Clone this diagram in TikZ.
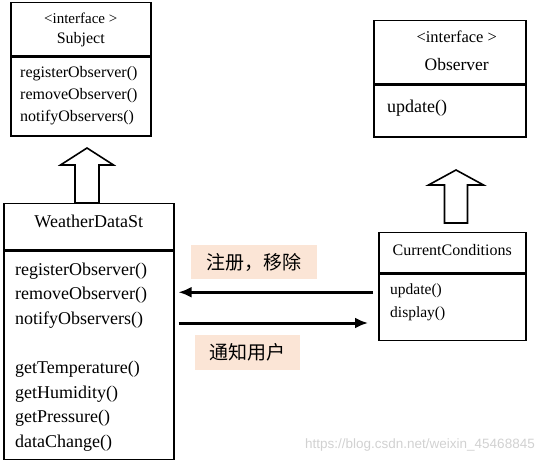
\documentclass[tikz,border=0pt]{standalone}
\usepackage{fontspec}
\setmainfont{Liberation Serif}
\newfontfamily\cjk{Noto Sans CJK SC}
\newfontfamily\wmfont{Liberation Sans}
\usetikzlibrary{arrows.meta}
\definecolor{notefill}{HTML}{FBE5D6}

\tikzset{
  box/.style={draw, line width=1.5pt, inner sep=0pt},
  ops/.style={anchor=north west, align=left, inner sep=0pt},
  title/.style={anchor=base, inner sep=0pt},
  note/.style={fill=notefill, inner sep=0pt, font=\cjk\fontsize{19}{19}\selectfont},
  link/.style={line width=3pt, -{Latex[length=13pt,width=11pt]}},
  hollow/.style={line width=1.6pt, line join=miter},
}

\begin{document}
\begin{tikzpicture}[x=1pt,y=-1pt]
\useasboundingbox (0,0) rectangle (543,462);

% Subject
\node[box, minimum width=140pt, minimum height=53pt, anchor=north west] (subjhead) at (10,2) {};
\node[box, minimum width=140pt, minimum height=79pt, anchor=north] (subjbody) at (subjhead.south) {};
\node[title, font=\fontsize{15}{15}\selectfont] (subjstereo) at ([yshift=5.5pt]subjhead.center) {<interface >};
\node[title, font=\fontsize{16}{16}\selectfont] (subjname) at ([yshift=-14.5pt]subjhead.center) {Subject};
\node[ops, font=\fontsize{16}{22}\selectfont] (subjops) at ([xshift=10pt,yshift=-10pt]subjbody.north west)
  {registerObserver()\\removeObserver()\\notifyObservers()};

% Observer
\node[box, minimum width=152pt, minimum height=63pt, anchor=north west] (obshead) at (373,20) {};
\node[box, minimum width=152pt, minimum height=52pt, anchor=north] (obsbody) at (obshead.south) {};
\node[title, font=\fontsize{16.5}{16.5}\selectfont] (obsstereo) at ([xshift=7pt,yshift=9.5pt]obshead.center) {<interface >};
\node[title, font=\fontsize{17.5}{17.5}\selectfont] (obsname) at ([xshift=7pt,yshift=-18.5pt]obshead.center) {Observer};
\node[ops, font=\fontsize{18}{24}\selectfont] (obsops) at ([xshift=14pt,yshift=-15pt]obsbody.north west) {update()};

% WeatherDataSt
\node[box, minimum width=170pt, minimum height=46pt, anchor=north west] (wdhead) at (3,203) {};
\node[box, minimum width=170pt, minimum height=208pt, anchor=north] (wdbody) at (wdhead.south) {};
\node[title, font=\fontsize{18}{18}\selectfont] (wdname) at ([yshift=-1pt]wdhead.center) {WeatherDataSt};
\node[ops, font=\fontsize{18}{24.6}\selectfont] (wdops) at ([xshift=12pt,yshift=-12pt]wdbody.north west)
  {registerObserver()\\removeObserver()\\notifyObservers()\\[24.6pt]getTemperature()\\getHumidity()\\getPressure()\\dataChange()};

% CurrentConditions
\node[box, minimum width=147pt, minimum height=40pt, anchor=north west] (cchead) at (378,232) {};
\node[box, minimum width=147pt, minimum height=66pt, anchor=north] (ccbody) at (cchead.south) {};
\node[title, font=\fontsize{16}{16}\selectfont] (ccname) at ([yshift=-3pt]cchead.center) {CurrentConditions};
\node[ops, font=\fontsize{15.5}{23}\selectfont] (ccops) at ([xshift=12pt,yshift=-10pt]ccbody.north west)
  {update()\\display()};

% hollow arrows
\coordinate (subjtip) at (87,148);
\draw[hollow] (subjtip) -- ++(26.5,17) -- ++(-14.5,0) -- (wdhead.north -| 99,0) -- (wdhead.north -| 75,0)
  -- (75,165) -- ++(-14.5,0) -- cycle;
\coordinate (obstip) at (456,170);
\draw[hollow] (obstip) -- ++(27.5,15) -- ++(-16,0) -- ++(0,38) -- ++(-23,0) -- ++(0,-38) -- ++(-16,0) -- cycle;

% messages
\coordinate (regfrom) at ([xshift=-5pt,yshift=15pt]ccbody.west);
\coordinate (regto) at ([xshift=4pt]wdbody.east |- regfrom);
\draw[link] (regfrom) -- (regto);
\coordinate (notfrom) at ([xshift=4pt]wdbody.east |- 0,323);
\coordinate (notto) at ([xshift=-10pt]ccbody.west |- notfrom);
\draw[link] (notfrom) -- (notto);
\node[note, minimum width=126pt, minimum height=34pt] (regnote) at (254,262) {注册，移除};
\node[note, minimum width=105pt, minimum height=35pt] (notnote) at (247.5,352.5) {通知用户};

% watermark
\node[anchor=base east, inner sep=0pt, text=black!18, font=\wmfont\fontsize{13.5}{13.5}\selectfont] (mark) at (535,448) {https://blog.csdn.net/weixin\_45468845};
\end{tikzpicture}
\end{document}
